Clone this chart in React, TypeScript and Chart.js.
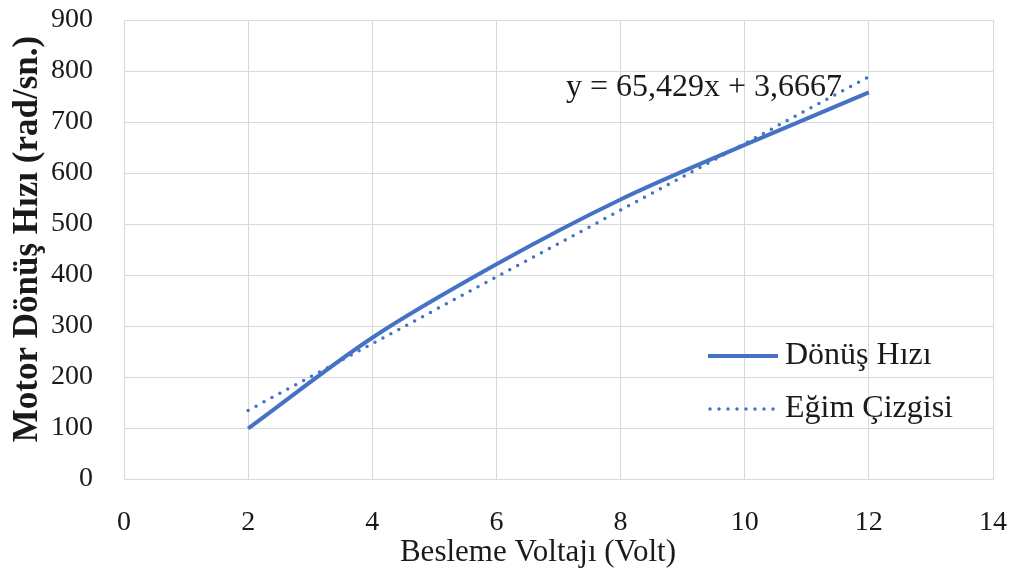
import React, { useEffect, useRef } from "react";
import { Chart, registerables } from "chart.js";

Chart.register(...registerables);

// Supply voltage (V) and measured motor speed (rad/s)
const voltages = [2, 4, 6, 8, 10, 12];
const speeds = [99, 277, 421, 548, 655, 758];

// Linear trend line coefficients (y = slope * x + intercept)
const trendSlope = 65.429;
const trendIntercept = 3.6667;
const trendLabel = "y = 65,429x + 3,6667";

const xTicks = [0, 2, 4, 6, 8, 10, 12, 14];
const yTicks = [0, 100, 200, 300, 400, 500, 600, 700, 800, 900];

const seriesName = "Dönüş Hızı";
const trendName = "Eğim Çizgisi";
const xTitle = "Besleme Voltajı (Volt)";
const yTitle = "Motor Dönüş Hızı (rad/sn.)";

const BLUE = "#4472C4";
const TEXT = "#1a1a1a";
const SERIF = "'Liberation Serif', 'Times New Roman', serif";

const trendPoints = [voltages[0], voltages[voltages.length - 1]].map((x) => ({
  x,
  y: trendSlope * x + trendIntercept,
}));

// Axis titles, legend and equation text
const overlayPlugin = {
  id: "overlay",
  afterDatasetsDraw(chart: any) {
    const { ctx, chartArea, scales } = chart;
    ctx.save();
    ctx.fillStyle = TEXT;
    ctx.textBaseline = "middle";

    // axis titles
    ctx.textAlign = "center";
    ctx.font = `31px ${SERIF}`;
    ctx.fillText(xTitle, chartArea.left + 414, 553);

    ctx.save();
    ctx.translate(28, chartArea.top + 219);
    ctx.rotate(-Math.PI / 2);
    ctx.font = `bold 35px ${SERIF}`;
    ctx.fillText(yTitle, 0, 0);
    ctx.restore();

    // trend equation
    ctx.textAlign = "left";
    ctx.font = `32px ${SERIF}`;
    const ex = scales.x.getPixelForValue(7.12);
    const ey = scales.y.getPixelForValue(768);
    ctx.fillText(trendLabel, ex, ey);

    // legend
    const lx0 = chartArea.right - 285;
    const lx1 = lx0 + 70;
    const row1 = chartArea.top + 336;
    const row2 = chartArea.top + 389;

    ctx.strokeStyle = BLUE;
    ctx.lineWidth = 4;
    ctx.lineCap = "butt";
    ctx.beginPath();
    ctx.moveTo(lx0, row1);
    ctx.lineTo(lx1, row1);
    ctx.stroke();

    ctx.lineWidth = 3.5;
    ctx.lineCap = "round";
    ctx.setLineDash([0, 9]);
    ctx.beginPath();
    ctx.moveTo(lx0 + 2, row2);
    ctx.lineTo(lx1, row2);
    ctx.stroke();
    ctx.setLineDash([]);

    ctx.font = `32px ${SERIF}`;
    ctx.fillText(seriesName, lx1 + 7, row1);
    ctx.fillText(trendName, lx1 + 7, row2);
    ctx.restore();
  },
};

const clearScalePadding = (s: any) => {
  s.paddingTop = 0;
  s.paddingBottom = 0;
  s.paddingLeft = 0;
  s.paddingRight = 0;
};

export default function App() {
  const canvasRef = useRef<HTMLCanvasElement | null>(null);

  useEffect(() => {
    document.body.style.margin = "0";
    const canvas = canvasRef.current;
    if (!canvas) return;

    const chart = new Chart(canvas, {
      type: "line",
      data: {
        datasets: [
          {
            label: seriesName,
            data: voltages.map((v, i) => ({ x: v, y: speeds[i] })),
            borderColor: BLUE,
            backgroundColor: BLUE,
            borderWidth: 4,
            pointRadius: 0,
            tension: 0.4,
            cubicInterpolationMode: "monotone",
          },
          {
            label: trendName,
            data: trendPoints,
            borderColor: BLUE,
            backgroundColor: BLUE,
            borderWidth: 3.5,
            borderDash: [0, 9],
            borderCapStyle: "round",
            pointRadius: 0,
          },
        ],
      },
      options: {
        responsive: false,
        animation: false,
        devicePixelRatio: 1,
        layout: { padding: { top: 20, right: 23, left: 0, bottom: 0 } },
        plugins: {
          legend: { display: false },
          tooltip: { enabled: false },
        },
        scales: {
          x: {
            type: "linear",
            min: 0,
            max: 14,
            afterBuildTicks: (s: any) => {
              s.ticks = xTicks.map((v) => ({ value: v }));
            },
            afterFit: (s: any) => {
              s.height = 101;
              clearScalePadding(s);
            },
            grid: { color: "#d9d9d9", lineWidth: 1, drawTicks: false },
            border: { color: "#d9d9d9" },
            ticks: {
              padding: 27,
              color: TEXT,
              maxRotation: 0,
              font: { family: SERIF, size: 28 },
            },
          },
          y: {
            type: "linear",
            min: 0,
            max: 900,
            afterBuildTicks: (s: any) => {
              s.ticks = yTicks.map((v) => ({ value: v }));
            },
            afterFit: (s: any) => {
              s.width = 124;
              clearScalePadding(s);
            },
            grid: { color: "#d9d9d9", lineWidth: 1, drawTicks: false },
            border: { color: "#d9d9d9" },
            ticks: {
              padding: 31,
              color: TEXT,
              font: { family: SERIF, size: 28 },
            },
          },
        },
      },
      plugins: [overlayPlugin],
    });

    return () => chart.destroy();
  }, []);

  return (
    <div style={{ width: 1016, height: 580, background: "#fff" }}>
      <canvas ref={canvasRef} width={1016} height={580} />
    </div>
  );
}
